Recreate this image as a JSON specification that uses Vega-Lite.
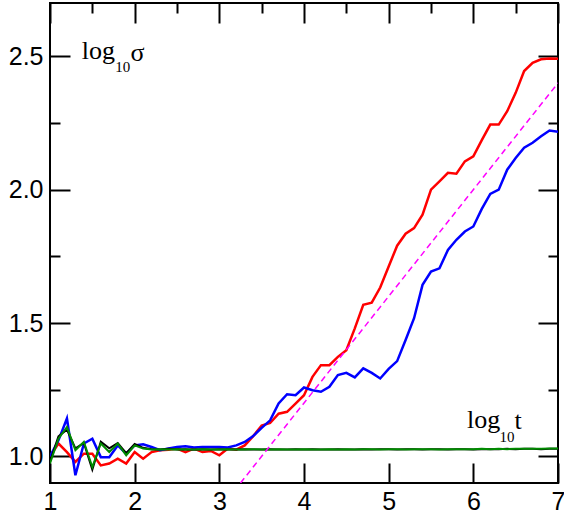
{
  "$schema": "https://vega.github.io/schema/vega-lite/v6.json",
  "width": 508,
  "height": 480,
  "autosize": {"type": "none"},
  "padding": {"left": 50, "top": 3, "right": 6, "bottom": 30},
  "background": "white",
  "config": {
    "view": {"stroke": "#000", "strokeWidth": 2},
    "axis": {"domain": false, "grid": false, "tickColor": "#000", "tickWidth": 2, "labelFont": "Liberation Sans", "labelFontSize": 25, "labelColor": "#000"}
  },
  "datasets": {
    "curves": [
      {"t": 1.0, "red": 1.000, "blue": 1.000, "green": 0.973, "black": 0.980},
      {"t": 1.1, "red": 1.048, "blue": 1.060, "green": 1.066, "black": 1.075},
      {"t": 1.2, "red": 1.016, "blue": 1.142, "green": 1.110, "black": 1.100},
      {"t": 1.3, "red": 0.979, "blue": 0.929, "green": 1.023, "black": 1.030},
      {"t": 1.4, "red": 1.010, "blue": 1.048, "green": 1.054, "black": 1.050},
      {"t": 1.5, "red": 1.010, "blue": 1.066, "green": 0.960, "black": 0.950},
      {"t": 1.6, "red": 0.966, "blue": 0.997, "green": 1.048, "black": 1.055},
      {"t": 1.7, "red": 0.973, "blue": 0.997, "green": 1.016, "black": 1.030},
      {"t": 1.8, "red": 0.991, "blue": 1.041, "green": 1.048, "black": 1.050},
      {"t": 1.9, "red": 0.973, "blue": 1.010, "green": 1.004, "black": 1.012},
      {"t": 2.0, "red": 1.016, "blue": 1.041, "green": 1.041, "black": 1.046},
      {"t": 2.1, "red": 0.991, "blue": 1.045, "green": 1.029, "black": 1.032},
      {"t": 2.2, "red": 1.016, "blue": 1.035, "green": 1.026, "black": 1.027},
      {"t": 2.3, "red": 1.023, "blue": 1.023, "green": 1.027, "black": 1.026},
      {"t": 2.4, "red": 1.025, "blue": 1.029, "green": 1.026, "black": 1.028},
      {"t": 2.5, "red": 1.029, "blue": 1.035, "green": 1.027, "black": 1.026},
      {"t": 2.6, "red": 1.016, "blue": 1.038, "green": 1.026, "black": 1.027},
      {"t": 2.7, "red": 1.029, "blue": 1.033, "green": 1.026, "black": 1.025},
      {"t": 2.8, "red": 1.016, "blue": 1.035, "green": 1.027, "black": 1.027},
      {"t": 2.9, "red": 1.020, "blue": 1.035, "green": 1.026, "black": 1.026},
      {"t": 3.0, "red": 1.004, "blue": 1.035, "green": 1.026, "black": 1.027},
      {"t": 3.1, "red": 1.029, "blue": 1.033, "green": 1.027, "black": 1.026},
      {"t": 3.2, "red": 1.025, "blue": 1.041, "green": 1.026, "black": 1.026},
      {"t": 3.3, "red": 1.041, "blue": 1.054, "green": 1.026, "black": 1.027},
      {"t": 3.4, "red": 1.076, "blue": 1.076, "green": 1.027, "black": 1.026},
      {"t": 3.5, "red": 1.115, "blue": 1.107, "green": 1.026, "black": 1.026},
      {"t": 3.6, "red": 1.125, "blue": 1.135, "green": 1.026, "black": 1.027},
      {"t": 3.7, "red": 1.160, "blue": 1.198, "green": 1.027, "black": 1.026},
      {"t": 3.8, "red": 1.167, "blue": 1.233, "green": 1.026, "black": 1.026},
      {"t": 3.9, "red": 1.198, "blue": 1.229, "green": 1.026, "black": 1.027},
      {"t": 4.0, "red": 1.229, "blue": 1.258, "green": 1.027, "black": 1.026},
      {"t": 4.1, "red": 1.298, "blue": 1.248, "green": 1.026, "black": 1.027},
      {"t": 4.2, "red": 1.342, "blue": 1.242, "green": 1.026, "black": 1.026},
      {"t": 4.3, "red": 1.342, "blue": 1.261, "green": 1.027, "black": 1.026},
      {"t": 4.4, "red": 1.373, "blue": 1.305, "green": 1.026, "black": 1.027},
      {"t": 4.5, "red": 1.398, "blue": 1.313, "green": 1.027, "black": 1.026},
      {"t": 4.6, "red": 1.480, "blue": 1.296, "green": 1.026, "black": 1.026},
      {"t": 4.7, "red": 1.568, "blue": 1.330, "green": 1.027, "black": 1.027},
      {"t": 4.8, "red": 1.576, "blue": 1.313, "green": 1.027, "black": 1.026},
      {"t": 4.9, "red": 1.633, "blue": 1.292, "green": 1.026, "black": 1.027},
      {"t": 5.0, "red": 1.712, "blue": 1.328, "green": 1.027, "black": 1.027},
      {"t": 5.1, "red": 1.790, "blue": 1.357, "green": 1.027, "black": 1.026},
      {"t": 5.2, "red": 1.835, "blue": 1.436, "green": 1.026, "black": 1.027},
      {"t": 5.3, "red": 1.856, "blue": 1.518, "green": 1.027, "black": 1.027},
      {"t": 5.4, "red": 1.906, "blue": 1.643, "green": 1.027, "black": 1.026},
      {"t": 5.5, "red": 2.000, "blue": 1.693, "green": 1.027, "black": 1.027},
      {"t": 5.6, "red": 2.031, "blue": 1.705, "green": 1.026, "black": 1.027},
      {"t": 5.7, "red": 2.063, "blue": 1.774, "green": 1.027, "black": 1.026},
      {"t": 5.8, "red": 2.060, "blue": 1.812, "green": 1.027, "black": 1.027},
      {"t": 5.9, "red": 2.106, "blue": 1.843, "green": 1.027, "black": 1.027},
      {"t": 6.0, "red": 2.125, "blue": 1.862, "green": 1.027, "black": 1.026},
      {"t": 6.1, "red": 2.186, "blue": 1.928, "green": 1.028, "black": 1.027},
      {"t": 6.2, "red": 2.244, "blue": 1.984, "green": 1.027, "black": 1.027},
      {"t": 6.3, "red": 2.244, "blue": 2.000, "green": 1.028, "black": 1.027},
      {"t": 6.4, "red": 2.294, "blue": 2.075, "green": 1.027, "black": 1.028},
      {"t": 6.5, "red": 2.363, "blue": 2.119, "green": 1.028, "black": 1.027},
      {"t": 6.6, "red": 2.445, "blue": 2.157, "green": 1.028, "black": 1.028},
      {"t": 6.7, "red": 2.476, "blue": 2.176, "green": 1.028, "black": 1.028},
      {"t": 6.8, "red": 2.489, "blue": 2.200, "green": 1.028, "black": 1.027},
      {"t": 6.9, "red": 2.492, "blue": 2.222, "green": 1.029, "black": 1.028},
      {"t": 7.0, "red": 2.491, "blue": 2.217, "green": 1.029, "black": 1.028}
    ],
    "fit": [
      {"t": 3.25, "y": 0.9},
      {"t": 7.0, "y": 2.4}
    ]
  },
  "layer": [
    {
      "data": {"name": "curves"},
      "mark": {"type": "line", "color": "#ff0000", "strokeWidth": 2.5, "clip": true},
      "encoding": {
        "x": {"field": "t", "type": "quantitative", "scale": {"domain": [1, 7], "nice": false, "zero": false},
          "axis": {"orient": "bottom", "title": null, "values": [1, 1.5, 2, 2.5, 3, 3.5, 4, 4.5, 5, 5.5, 6, 6.5, 7],
            "tickSize": {"condition": {"test": "datum.value % 1 === 0", "value": -20}, "value": -10},
            "labelExpr": "datum.value % 1 === 0 ? datum.label : ''", "format": "d",
            "labelPadding": 26, "labelFlush": false, "labelOverlap": false, "labelBaseline": "top"}},
        "y": {"field": "red", "type": "quantitative", "scale": {"domain": [0.9, 2.7], "nice": false, "zero": false},
          "axis": {"orient": "left", "title": null, "values": [1, 1.25, 1.5, 1.75, 2, 2.25, 2.5],
            "tickSize": {"condition": {"test": "(datum.value * 2) % 1 === 0", "value": -20}, "value": -10},
            "labelExpr": "(datum.value * 2) % 1 === 0 ? datum.label : ''", "format": ".1f",
            "labelPadding": 27, "labelOverlap": false}}
      }
    },
    {
      "data": {"name": "curves"},
      "mark": {"type": "line", "color": "#0000ff", "strokeWidth": 2.5, "clip": true},
      "encoding": {
        "x": {"field": "t", "type": "quantitative", "scale": {"domain": [1, 7], "nice": false, "zero": false},
          "axis": {"orient": "top", "title": null, "labels": false, "values": [1, 1.5, 2, 2.5, 3, 3.5, 4, 4.5, 5, 5.5, 6, 6.5, 7],
            "tickSize": {"condition": {"test": "datum.value % 1 === 0", "value": -20}, "value": -10}}},
        "y": {"field": "blue", "type": "quantitative", "scale": {"domain": [0.9, 2.7], "nice": false, "zero": false},
          "axis": {"orient": "right", "title": null, "labels": false, "values": [1, 1.25, 1.5, 1.75, 2, 2.25, 2.5],
            "tickSize": {"condition": {"test": "(datum.value * 2) % 1 === 0", "value": -20}, "value": -10}}}
      }
    },
    {
      "data": {"name": "curves"},
      "mark": {"type": "line", "color": "#000000", "strokeWidth": 2, "clip": true},
      "encoding": {
        "x": {"field": "t", "type": "quantitative", "scale": {"domain": [1, 7], "nice": false, "zero": false}, "axis": null},
        "y": {"field": "black", "type": "quantitative", "scale": {"domain": [0.9, 2.7], "nice": false, "zero": false}, "axis": null}
      }
    },
    {
      "data": {"name": "curves"},
      "mark": {"type": "line", "color": "#008b00", "strokeWidth": 2, "clip": true},
      "encoding": {
        "x": {"field": "t", "type": "quantitative", "scale": {"domain": [1, 7], "nice": false, "zero": false}, "axis": null},
        "y": {"field": "green", "type": "quantitative", "scale": {"domain": [0.9, 2.7], "nice": false, "zero": false}, "axis": null}
      }
    },
    {
      "data": {"name": "fit"},
      "mark": {"type": "line", "color": "#ff00ff", "strokeWidth": 1.5, "strokeDash": [6, 4], "clip": true},
      "encoding": {
        "x": {"field": "t", "type": "quantitative", "scale": {"domain": [1, 7], "nice": false, "zero": false}, "axis": null},
        "y": {"field": "y", "type": "quantitative", "scale": {"domain": [0.9, 2.7], "nice": false, "zero": false}, "axis": null}
      }
    },
    {
      "data": {"values": [{}]},
      "mark": {"type": "text", "text": "log", "font": "Liberation Serif", "fontSize": 26, "align": "left", "baseline": "alphabetic", "color": "#000"},
      "encoding": {
        "x": {"datum": 1.374, "type": "quantitative", "axis": null},
        "y": {"datum": 2.489, "type": "quantitative", "axis": null}
      }
    },
    {
      "data": {"values": [{}]},
      "mark": {"type": "text", "text": "10", "font": "Liberation Serif", "fontSize": 15, "align": "left", "baseline": "alphabetic", "color": "#000"},
      "encoding": {
        "x": {"datum": 1.772, "type": "quantitative", "axis": null},
        "y": {"datum": 2.443, "type": "quantitative", "axis": null}
      }
    },
    {
      "data": {"values": [{}]},
      "mark": {"type": "text", "text": "σ", "font": "Liberation Serif", "fontSize": 26, "align": "left", "baseline": "alphabetic", "color": "#000"},
      "encoding": {
        "x": {"datum": 1.95, "type": "quantitative", "axis": null},
        "y": {"datum": 2.481, "type": "quantitative", "axis": null}
      }
    },
    {
      "data": {"values": [{}]},
      "mark": {"type": "text", "text": "log", "font": "Liberation Serif", "fontSize": 26, "align": "left", "baseline": "alphabetic", "color": "#000"},
      "encoding": {
        "x": {"datum": 5.925, "type": "quantitative", "axis": null},
        "y": {"datum": 1.105, "type": "quantitative", "axis": null}
      }
    },
    {
      "data": {"values": [{}]},
      "mark": {"type": "text", "text": "10", "font": "Liberation Serif", "fontSize": 15, "align": "left", "baseline": "alphabetic", "color": "#000"},
      "encoding": {
        "x": {"datum": 6.31, "type": "quantitative", "axis": null},
        "y": {"datum": 1.052, "type": "quantitative", "axis": null}
      }
    },
    {
      "data": {"values": [{}]},
      "mark": {"type": "text", "text": "t", "font": "Liberation Serif", "fontSize": 26, "align": "left", "baseline": "alphabetic", "color": "#000"},
      "encoding": {
        "x": {"datum": 6.485, "type": "quantitative", "axis": null},
        "y": {"datum": 1.101, "type": "quantitative", "axis": null}
      }
    }
  ],
  "resolve": {"axis": {"x": "independent", "y": "independent"}}
}
